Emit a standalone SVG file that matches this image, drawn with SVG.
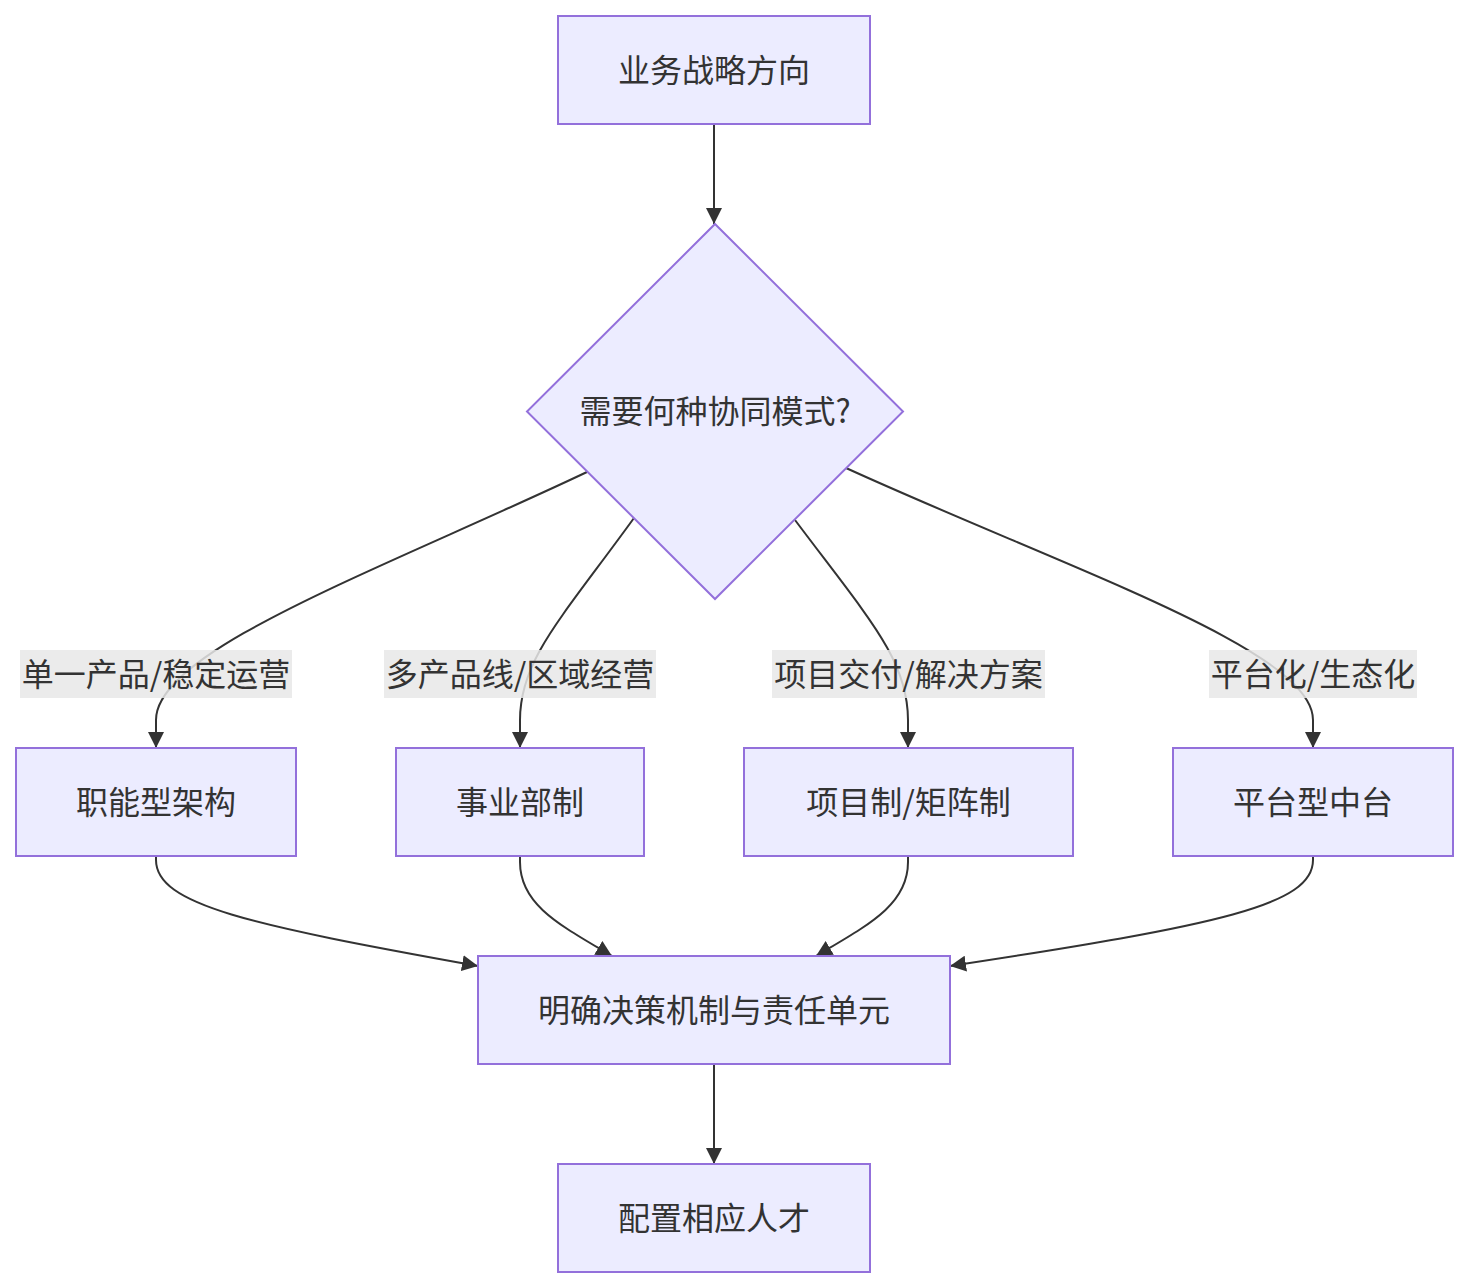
<svg xmlns="http://www.w3.org/2000/svg" width="1468" height="1287" viewBox="0 0 1468 1287">
<style>
.node rect,.node polygon{fill:#ECECFF;stroke:#9370DB;stroke-width:2}
text{font-family:"Noto Sans CJK SC","Noto Sans",sans-serif;font-size:32px;fill:#333;text-anchor:middle;dominant-baseline:central}
.edge{fill:none;stroke:#333;stroke-width:2}
.lbl rect{fill:#e8e8e8;fill-opacity:0.85;stroke:none}
</style>
<defs>
<marker id="arrow" viewBox="0 0 10 10" refX="10" refY="5" markerUnits="userSpaceOnUse" markerWidth="16" markerHeight="16" orient="auto">
<path d="M0,0 L10,5 L0,10 z" fill="#333"/>
</marker>
</defs>
<rect width="1468" height="1287" fill="#fff"/>
<g id="connectors">
<path class="edge" d="M714,124 L714,224" marker-end="url(#arrow)"/>
<path class="edge" d="M587,472 C380,570 156,650 156,720 L156,748" marker-end="url(#arrow)"/>
<path class="edge" d="M634,518 C560,620 520,660 520,720 L520,748" marker-end="url(#arrow)"/>
<path class="edge" d="M795,520 C870,620 908,660 908,720 L908,748" marker-end="url(#arrow)"/>
<path class="edge" d="M846,468 C1070,570 1313,650 1313,720 L1313,748" marker-end="url(#arrow)"/>
<path class="edge" d="M156,856 L156,860 C156,905 250,925 478,966" marker-end="url(#arrow)"/>
<path class="edge" d="M520,856 L520,862 C520,905 560,925 612,956" marker-end="url(#arrow)"/>
<path class="edge" d="M908,856 L908,862 C908,905 868,925 816,956" marker-end="url(#arrow)"/>
<path class="edge" d="M1313,856 L1313,860 C1313,905 1220,925 950,966" marker-end="url(#arrow)"/>
<path class="edge" d="M714,1064 L714,1164" marker-end="url(#arrow)"/>
<g class="lbl" id="label-1"><rect x="20" y="650" width="272" height="48"/><text x="156" y="672">单一产品/稳定运营</text></g>
<g class="lbl" id="label-2"><rect x="384" y="650" width="272" height="48"/><text x="520" y="672">多产品线/区域经营</text></g>
<g class="lbl" id="label-3"><rect x="772" y="650" width="273" height="48"/><text x="908.5" y="672">项目交付/解决方案</text></g>
<g class="lbl" id="label-4"><rect x="1209" y="650" width="208" height="48"/><text x="1313" y="672">平台化/生态化</text></g>
</g>
<g class="node" id="strategy"><rect x="558" y="16" width="312" height="108"/><text x="714" y="68">业务战略方向</text></g>
<g class="node" id="decision"><polygon points="715,224 903,411.5 715,599 527,411.5"/><text x="715" y="409">需要何种协同模式?</text></g>
<g class="node" id="functional"><rect x="16" y="748" width="280" height="108"/><text x="156" y="800">职能型架构</text></g>
<g class="node" id="division"><rect x="396" y="748" width="248" height="108"/><text x="520" y="800">事业部制</text></g>
<g class="node" id="matrix"><rect x="744" y="748" width="329" height="108"/><text x="908.5" y="800">项目制/矩阵制</text></g>
<g class="node" id="platform"><rect x="1173" y="748" width="280" height="108"/><text x="1313" y="800">平台型中台</text></g>
<g class="node" id="mechanism"><rect x="478" y="956" width="472" height="108"/><text x="714" y="1008">明确决策机制与责任单元</text></g>
<g class="node" id="talent"><rect x="558" y="1164" width="312" height="108"/><text x="714" y="1216">配置相应人才</text></g>
</svg>
